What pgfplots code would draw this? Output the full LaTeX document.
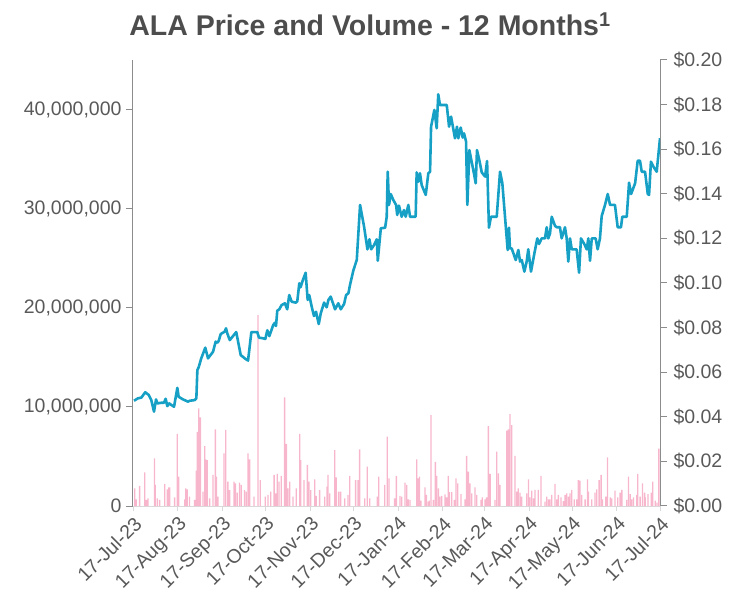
\documentclass[border=0pt]{standalone}
\usepackage{pgfplots}
\pgfplotsset{compat=1.18}
\usepackage{fontspec}
\setmainfont{Liberation Sans}
\definecolor{txt}{RGB}{89,89,89}
\definecolor{ttl}{RGB}{77,77,77}
\definecolor{priceblue}{RGB}{23,160,197}
\definecolor{volpink}{RGB}{247,182,204}
\definecolor{axgray}{RGB}{140,140,140}
\definecolor{xgray}{RGB}{217,217,217}
\begin{document}
\begin{tikzpicture}
\useasboundingbox (-133bp,-101bp) rectangle (618bp,506bp);
\pgfplotsset{
  every axis/.append style={
    scale only axis, width=527bp, height=446bp,
    xmin=0, xmax=366, enlargelimits=false,
    /pgf/number format/assume math mode=true,
    tick label style={font=\fontsize{19.5bp}{21bp}\selectfont, text=txt},
    tick align=outside, major tick length=7bp,
  }
}
\begin{axis}[
  axis x line*=bottom, axis y line*=left,
  ymin=0, ymax=45,
  x axis line style={draw=xgray, line width=1bp},
  y axis line style={draw=axgray, line width=1bp},
  xtick={0,31,62,92,123,153,184,215,244,275,305,336,366},
  xticklabels={17-Jul-23,17-Aug-23,17-Sep-23,17-Oct-23,17-Nov-23,17-Dec-23,17-Jan-24,17-Feb-24,17-Mar-24,17-Apr-24,17-May-24,17-Jun-24,17-Jul-24},
  x tick label style={rotate=45, anchor=north east, inner sep=1.5bp},
  xtick style={draw=xgray, line width=0.8bp},
  major x tick style={/pgfplots/major tick length=5bp},
  ytick={0,10,20,30,40},
  yticklabels={0,{10,000,000},{20,000,000},{30,000,000},{40,000,000}},
  ytick style={draw=axgray, line width=1bp},
  y tick label style={xshift=-1bp},
]
\addplot[ybar, bar width=1.3bp, draw=none, fill=volpink] coordinates {
(1.2,1.79) (2.3,0.67) (4.6,2.02) (8.1,3.40) (9.3,0.61) (10.4,0.78) (15.0,4.81) (15.5,2.12)
(16.9,0.78) (18.5,0.61) (22.0,2.22) (23.8,1.68) (24.8,1.89) (25.5,1.89) (28.9,0.88) (30.8,7.27)
(31.7,2.96) (35.9,0.67) (36.6,1.79) (37.7,1.68) (39.3,0.94) (42.8,0.61) (44.0,3.56) (44.7,7.47)
(45.6,9.86) (46.8,8.95) (48.6,1.45) (49.8,6.05) (50.5,4.71) (51.6,4.64) (53.2,0.78) (55.6,3.13)
(57.2,7.74) (57.9,2.96) (59.0,0.94) (63.2,5.31) (64.4,7.67) (65.9,2.46) (67.1,1.61) (70.1,2.46)
(71.1,2.29) (72.4,1.35) (74.0,2.35) (75.2,2.12) (77.5,1.61) (78.7,1.45) (79.9,5.31) (81.0,4.71)
(84.0,0.94) (86.8,19.27) (88.4,2.62) (91.9,0.94) (93.8,1.11) (95.6,1.45) (98.0,3.13) (99.1,1.28)
(100.2,3.23) (101.4,2.46) (103.0,3.03) (105.3,10.97) (106.5,6.26) (107.6,1.79) (108.8,2.46) (111.1,0.94)
(113.4,1.79) (115.8,7.27) (116.5,4.64) (118.8,2.62) (121.1,4.14) (122.2,2.46) (123.4,1.61) (126.2,2.69)
(127.3,1.01) (129.6,1.61) (133.1,0.94) (134.7,1.96) (135.4,3.13) (136.6,1.28) (140.1,5.65) (141.2,2.89)
(142.8,1.45) (144.2,1.45) (147.0,0.78) (149.3,1.11) (150.5,3.03) (154.6,2.62) (156.3,2.62) (157.4,5.72)
(160.9,0.78) (162.7,3.97) (164.4,0.78) (169.7,0.94) (170.6,2.96) (174.8,2.12) (176.6,6.99) (177.8,2.79)
(181.7,0.78) (182.9,3.03) (185.4,1.01) (186.6,0.94) (188.9,2.35) (190.1,2.12) (191.2,0.67) (192.4,0.61)
(197.0,4.71) (198.2,2.79) (198.9,2.96) (200.0,0.54) (202.8,1.88) (203.9,1.11) (205.1,0.44) (205.8,0.54)
(206.9,9.18) (208.6,0.61) (210.0,4.44) (210.9,3.03) (212.1,1.78) (213.2,0.94) (214.4,1.01) (216.7,1.18)
(217.8,0.88) (219.0,3.03) (219.7,1.41) (221.3,1.41) (223.2,0.61) (224.3,2.79) (225.5,2.29) (227.8,1.21)
(230.6,0.67) (231.7,5.05) (232.9,3.46) (234.0,2.29) (235.2,1.28) (237.5,1.88) (238.7,1.11) (241.7,0.61)
(242.6,0.88) (244.5,0.67) (245.6,0.88) (246.8,8.07) (248.0,3.23) (251.4,0.61) (252.6,5.48) (253.8,3.29)
(254.9,2.12) (259.5,7.60) (260.7,7.74) (261.8,9.28) (263.0,8.17) (265.3,5.05) (266.5,1.45) (267.6,1.78)
(268.8,1.35) (269.9,0.94) (273.4,1.28) (274.6,2.69) (275.7,0.88) (276.9,1.55) (278.1,0.78) (279.2,1.62)
(281.5,1.62) (283.4,3.03) (286.1,0.44) (287.3,0.94) (288.5,0.67) (289.6,0.67) (290.8,1.11) (293.1,2.22)
(294.3,0.67) (295.4,1.11) (297.3,0.88) (298.9,0.50) (300.1,1.11) (301.2,1.28) (302.4,0.94) (303.5,1.28)
(304.7,1.62) (306.5,0.67) (308.2,0.67) (309.3,2.62) (310.5,2.56) (311.7,1.11) (314.0,0.67) (315.6,2.69)
(316.3,1.45) (318.6,0.67) (320.9,1.35) (322.1,1.68) (323.7,2.62) (325.1,3.13) (326.1,0.67) (328.4,0.94)
(329.5,4.91) (331.4,0.88) (332.5,0.78) (334.8,1.55) (336.7,0.88) (338.3,1.35) (339.5,1.62) (342.9,0.61)
(344.1,2.96) (345.3,1.21) (346.4,0.67) (347.6,0.88) (349.9,1.11) (350.6,3.23) (352.2,0.94) (353.9,2.29)
(355.3,1.35) (355.8,0.88) (357.6,1.21) (359.9,1.35) (360.9,2.46) (362.7,0.54) (363.9,0.34) (365.2,5.80)
};
\end{axis}
\begin{axis}[
  axis x line=none, axis y line*=right,
  ymin=0, ymax=0.2,
  y axis line style={draw=axgray, line width=1bp},
  ytick={0,0.02,0.04,0.06,0.08,0.10,0.12,0.14,0.16,0.18,0.20},
  yticklabels={\$0.00,\$0.02,\$0.04,\$0.06,\$0.08,\$0.10,\$0.12,\$0.14,\$0.16,\$0.18,\$0.20},
  ytick style={draw=axgray, line width=1bp},
  y tick label style={xshift=3bp},
]
\addplot[priceblue, line width=2.6bp, line join=round] coordinates {
(0.7,0.0472) (3.5,0.0483) (5.8,0.0486) (8.5,0.0510) (10.9,0.0498) (12.7,0.0475) (14.6,0.0423) (16.0,0.0478)
(16.9,0.0460) (19.7,0.0463) (21.5,0.0463) (22.7,0.0481) (23.8,0.0448) (25.2,0.0460) (26.6,0.0453) (28.5,0.0445)
(30.8,0.0530) (31.7,0.0490) (34.7,0.0478) (38.2,0.0468) (39.4,0.0472) (42.9,0.0475) (44.0,0.0483) (44.7,0.0610)
(45.6,0.0622) (47.4,0.0662) (50.2,0.0710) (52.1,0.0662) (55.6,0.0692) (57.4,0.0737) (58.5,0.0732) (59.5,0.0740)
(60.9,0.0771) (63.7,0.0782) (64.6,0.0797) (65.5,0.0774) (67.2,0.0744) (71.7,0.0780) (74.8,0.0677) (77.6,0.0662)
(79.9,0.0652) (82.2,0.0780) (86.3,0.0780) (87.5,0.0755) (90.3,0.0752) (91.9,0.0749) (93.3,0.0788) (94.7,0.0762)
(97.4,0.0812) (98.6,0.0822) (99.3,0.0807) (100.2,0.0876) (101.6,0.0882) (103.2,0.0901) (105.5,0.0909) (107.1,0.0882)
(108.5,0.0946) (110.2,0.0916) (113.1,0.0912) (114.1,0.0918) (115.5,0.0999) (116.4,0.0981) (117.8,0.1010) (119.9,0.1046)
(121.3,0.0924) (122.4,0.0946) (124.1,0.0894) (125.7,0.0852) (127.1,0.0871) (129.0,0.0816) (130.4,0.0864) (132.7,0.0912)
(134.5,0.0891) (135.7,0.0924) (137.3,0.0939) (140.3,0.0882) (142.6,0.0909) (144.3,0.0882) (146.6,0.0906) (148.0,0.0946)
(149.6,0.0954) (150.7,0.0991) (153.1,0.1058) (155.4,0.1103) (157.7,0.1350) (160.5,0.1252) (162.8,0.1151) (164.2,0.1196)
(165.4,0.1151) (167.4,0.1170) (169.3,0.1196) (170.0,0.1100) (172.1,0.1245) (175.1,0.1248) (176.2,0.1297) (176.9,0.1499)
(177.8,0.1350) (179.0,0.1399) (180.8,0.1372) (182.7,0.1350) (183.5,0.1305) (184.7,0.1347) (186.6,0.1297) (188.2,0.1327)
(189.4,0.1297) (191.2,0.1350) (192.4,0.1297) (196.3,0.1297) (197.0,0.1496) (198.1,0.1454) (199.3,0.1492) (200.5,0.1439)
(203.3,0.1395) (205.1,0.1492) (206.3,0.1499) (207.0,0.1701) (209.3,0.1776) (210.9,0.1694) (212.0,0.1846) (213.2,0.1798)
(217.9,0.1798) (219.5,0.1701) (220.9,0.1746) (223.6,0.1649) (225.0,0.1701) (225.9,0.1649) (227.6,0.1697) (229.0,0.1652)
(229.9,0.1671) (231.3,0.1634) (232.2,0.1350) (233.6,0.1596) (237.0,0.1484) (238.0,0.1447) (238.9,0.1596) (240.5,0.1551)
(242.2,0.1496) (244.5,0.1477) (245.9,0.1547) (247.2,0.1248) (248.6,0.1297) (252.6,0.1297) (254.9,0.1499) (256.5,0.1447)
(260.2,0.1148) (261.1,0.1248) (261.8,0.1155) (263.0,0.1155) (265.8,0.1103) (267.6,0.1148) (268.8,0.1096) (270.0,0.1103)
(271.8,0.1051) (273.4,0.1096) (274.5,0.1151) (276.4,0.1051) (279.2,0.1148) (280.8,0.1200) (282.0,0.1175) (283.8,0.1200)
(286.1,0.1200) (287.3,0.1250) (288.4,0.1200) (289.6,0.1222) (290.8,0.1297) (293.1,0.1256) (294.3,0.1250) (296.5,0.1250)
(297.7,0.1200) (300.0,0.1250) (301.2,0.1200) (302.3,0.1096) (303.5,0.1200) (304.7,0.1151) (308.1,0.1151) (309.8,0.1046)
(311.1,0.1200) (313.4,0.1175) (315.1,0.1151) (316.2,0.1200) (317.4,0.1100) (318.6,0.1200) (321.3,0.1200) (322.7,0.1151)
(324.3,0.1200) (325.5,0.1300) (327.8,0.1350) (329.7,0.1399) (331.3,0.1350) (334.7,0.1350) (336.6,0.1250) (338.9,0.1250)
(339.8,0.1297) (342.9,0.1297) (344.5,0.1450) (345.9,0.1399) (348.7,0.1447) (350.5,0.1548) (352.1,0.1548) (353.3,0.1499)
(355.6,0.1499) (357.5,0.1399) (358.4,0.1395) (359.7,0.1544) (361.4,0.1522) (363.7,0.1499) (366.0,0.1649)
};
\end{axis}
\node[font=\fontsize{28.5bp}{31bp}\selectfont\bfseries, text=ttl] at (237bp,482bp) {ALA Price and Volume - 12 Months\textsuperscript{1}};
\end{tikzpicture}
\end{document}
